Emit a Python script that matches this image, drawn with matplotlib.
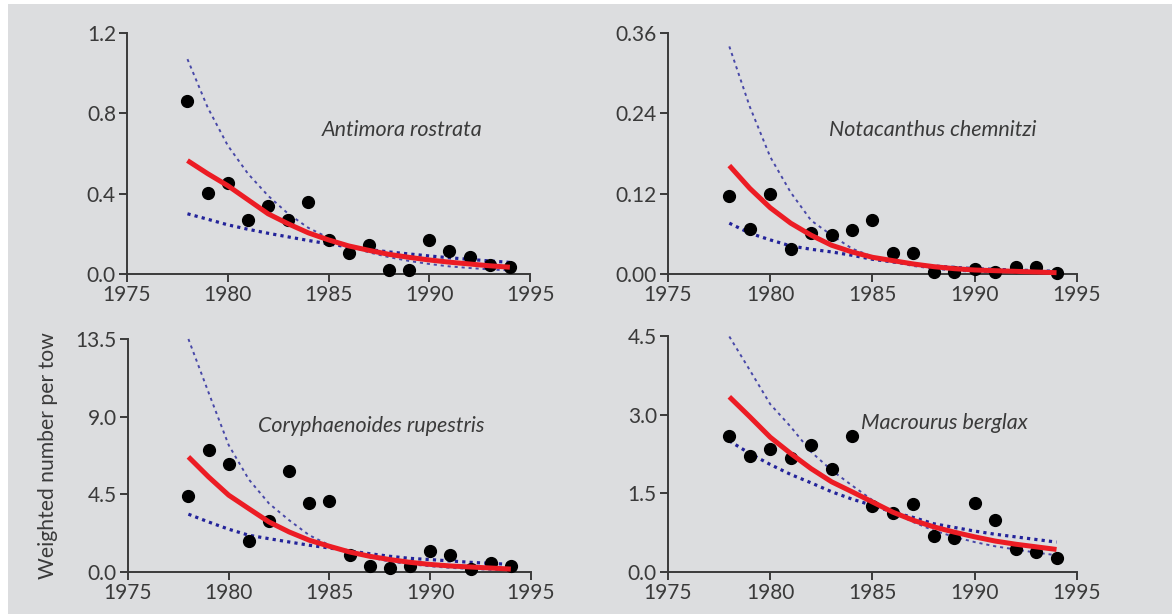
import matplotlib.pyplot as plt
from matplotlib.patches import Rectangle

years = list(range(1978, 1995))

# Antimora rostrata
ar_obs = [0.864, 0.402, 0.454, 0.269, 0.339, 0.268, 0.361, 0.170, 0.103, 0.145,
          0.02, 0.02, 0.170, 0.113, 0.086, 0.045, 0.037]
ar_fit = [0.565, 0.50, 0.44, 0.37, 0.30, 0.25, 0.205, 0.17, 0.14, 0.118, 0.098,
          0.083, 0.07, 0.059, 0.05, 0.041, 0.034]
ar_hi = [1.07, 0.83, 0.64, 0.50, 0.39, 0.30, 0.23, 0.18, 0.14, 0.108, 0.084,
         0.065, 0.05, 0.038, 0.03, 0.023, 0.018]
ar_lo = [0.30, 0.273, 0.245, 0.223, 0.203, 0.185, 0.167, 0.150, 0.135, 0.122,
         0.110, 0.100, 0.090, 0.081, 0.073, 0.065, 0.058]

# Notacanthus chemnitzi
nc_obs = [0.117, 0.068, 0.120, 0.038, 0.062, 0.058, 0.066, 0.081, 0.031, 0.031,
          0.0035, 0.0035, 0.007, 0.0035, 0.011, 0.011, 0.001]
nc_fit = [0.162, 0.128, 0.099, 0.076, 0.058, 0.043, 0.033, 0.025, 0.020, 0.015,
          0.011, 0.008, 0.006, 0.005, 0.004, 0.003, 0.002]
nc_hi = [0.34, 0.25, 0.175, 0.122, 0.08, 0.058, 0.038, 0.026, 0.018, 0.012,
         0.008, 0.005, 0.0035, 0.0025, 0.0018, 0.0012, 0.0008]
nc_lo = [0.076, 0.061, 0.051, 0.042, 0.037, 0.033, 0.028, 0.022, 0.018, 0.015,
         0.012, 0.010, 0.008, 0.007, 0.006, 0.005, 0.004]

# Coryphaenoides rupestris
cr_obs = [4.41, 7.04, 6.25, 1.78, 2.96, 5.86, 4.02, 4.10, 0.97, 0.33, 0.25,
          0.33, 1.22, 1.0, 0.19, 0.54, 0.35]
cr_fit = [6.67, 5.51, 4.45, 3.67, 2.90, 2.32, 1.84, 1.49, 1.16, 0.91, 0.72,
          0.56, 0.44, 0.35, 0.29, 0.23, 0.17]
cr_hi = [13.5, 10.4, 7.35, 5.36, 3.97, 3.0, 2.13, 1.55, 1.15, 0.85, 0.6, 0.45,
         0.33, 0.24, 0.18, 0.13, 0.1]
cr_lo = [3.35, 2.90, 2.48, 2.13, 1.93, 1.74, 1.55, 1.39, 1.22, 1.06, 0.91,
         0.79, 0.72, 0.64, 0.56, 0.50, 0.44]

# Macrourus berglax
mb_obs = [2.59, 2.21, 2.35, 2.18, 2.43, 1.96, 2.59, 1.26, 1.13, 1.29, 0.68,
          0.65, 1.32, 1.00, 0.445, 0.38, 0.27]
mb_fit = [3.34, 2.96, 2.57, 2.26, 1.97, 1.72, 1.53, 1.335, 1.14, 0.985, 0.86,
          0.76, 0.67, 0.59, 0.53, 0.48, 0.43]
mb_hi = [4.49, 3.85, 3.20, 2.77, 2.29, 1.94, 1.65, 1.37, 1.14, 0.95, 0.79,
         0.67, 0.57, 0.49, 0.43, 0.37, 0.32]
mb_lo = [2.50, 2.26, 2.05, 1.86, 1.70, 1.53, 1.39, 1.27, 1.14, 1.04, 0.92,
         0.85, 0.78, 0.72, 0.67, 0.62, 0.57]

xticks = [1975, 1980, 1985, 1990, 1995]

panels = [
    ('Antimora rostrata', ar_obs, ar_fit, ar_hi, ar_lo,
     [0.0, 0.4, 0.8, 1.2], ['0.0', '0.4', '0.8', '1.2'],
     [0.108, 0.5537, 0.3427, 0.3925], (0.484, 0.598)),
    ('Notacanthus chemnitzi', nc_obs, nc_fit, nc_hi, nc_lo,
     [0.0, 0.12, 0.24, 0.36], ['0.00', '0.12', '0.24', '0.36'],
     [0.568, 0.5537, 0.3478, 0.3925], (0.394, 0.598)),
    ('Coryphaenoides rupestris', cr_obs, cr_fit, cr_hi, cr_lo,
     [0.0, 4.5, 9.0, 13.5], ['0.0', '4.5', '9.0', '13.5'],
     [0.1088, 0.0684, 0.3427, 0.3795], (0.323, 0.627)),
    ('Macrourus berglax', mb_obs, mb_fit, mb_hi, mb_lo,
     [0.0, 1.5, 3.0, 4.5], ['0.0', '1.5', '3.0', '4.5'],
     [0.568, 0.0684, 0.3478, 0.3844], (0.472, 0.631)),
]

bg = '#dcdddf'
ink = '#3a3a3a'
navy = '#23239a'
plt.rcParams['font.family'] = ['Lato', 'DejaVu Sans']

fig = plt.figure(figsize=(11.76, 6.14), dpi=100, facecolor='white')
fig.patches.append(Rectangle((8 / 1176, 0), 1164 / 1176, 610 / 614,
                             transform=fig.transFigure, facecolor=bg,
                             edgecolor='none', zorder=-10))

for i, (name, obs, fit, hi, lo, yt, ytl, rect, tpos) in enumerate(panels):
    ax = fig.add_axes(rect)
    ax.set_facecolor('none')
    ax.plot(years, hi, color=navy, lw=1.4, alpha=0.8,
            linestyle=(0, (1.6, 2.0)), zorder=2, clip_on=False)
    ax.plot(years, lo, color=navy, lw=2.3, linestyle=(0, (1.0, 1.3)),
            zorder=2, clip_on=False)
    ax.plot(years, obs, 'o', color='black', ms=8.5, zorder=3, clip_on=False)
    ax.plot(years, fit, color='#ec1c24', lw=3.6, zorder=4,
            solid_capstyle='butt', clip_on=False)
    ax.set_xlim(1975, 1995)
    ax.set_ylim(yt[0], yt[-1])
    ax.set_xticks(xticks)
    ax.set_yticks(yt)
    ax.set_yticklabels(ytl)
    for s in ['top', 'right']:
        ax.spines[s].set_visible(False)
    for s in ['left', 'bottom']:
        ax.spines[s].set_color(ink)
        ax.spines[s].set_linewidth(1.4)
    ax.tick_params(direction='out', length=6, width=1.4, color=ink,
                   labelcolor=ink, labelsize=15, pad=2)
    ax.text(tpos[0], tpos[1], name, transform=ax.transAxes, fontsize=15.5,
            style='italic', color=ink, ha='left', va='center')
    if i == 2:
        ax.set_ylabel('Weighted number per tow', fontsize=15.2, color=ink,
                      labelpad=13)

fig.savefig('out.png', dpi=100, facecolor='white')
